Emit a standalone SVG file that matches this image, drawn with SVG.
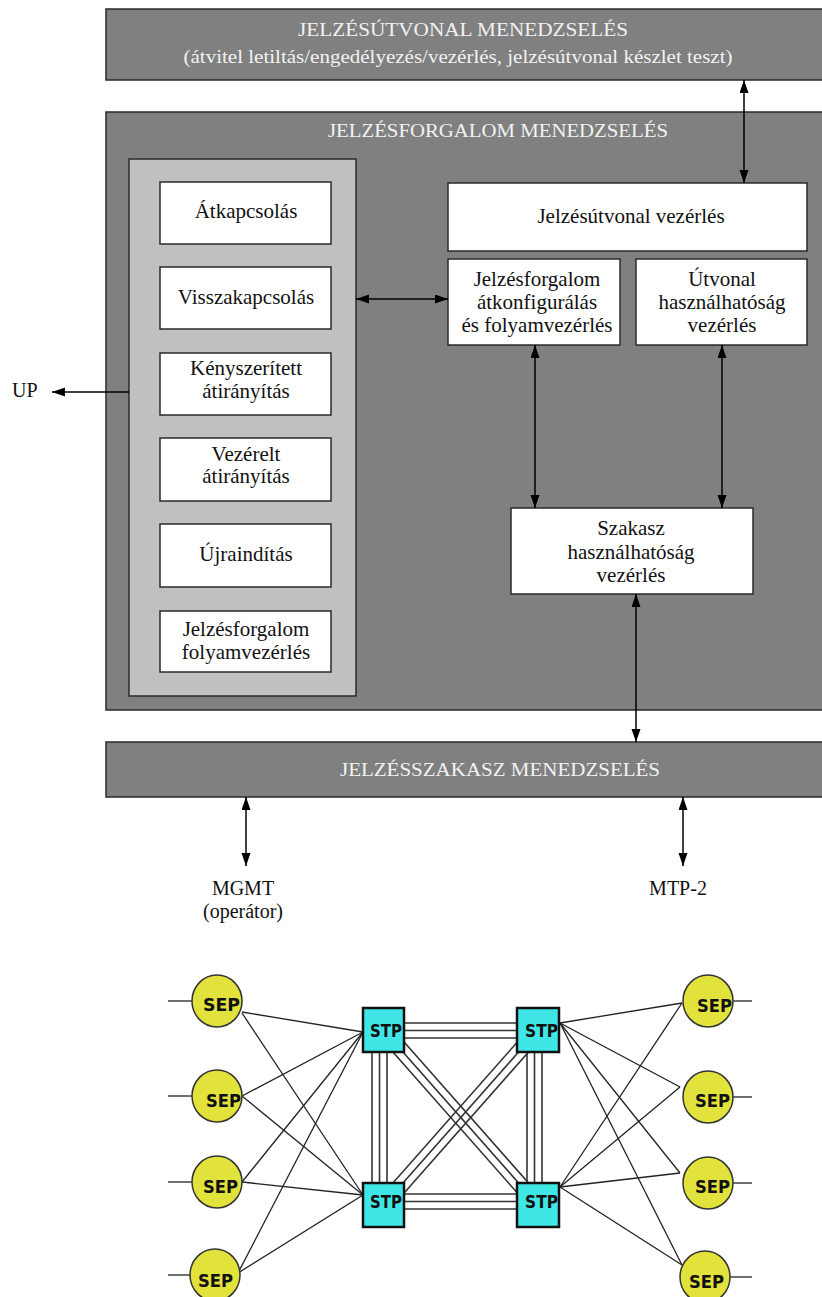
<svg xmlns="http://www.w3.org/2000/svg" width="822" height="1297" viewBox="0 0 822 1297">
<style>
.dark{fill:#808080;stroke:#2a2a2a;stroke-width:1.5}
.panel{fill:#c0c0c0;stroke:#2a2a2a;stroke-width:1.5}
.box{fill:#ffffff;stroke:#2a2a2a;stroke-width:1.5}
.title{font-family:"Liberation Serif","Times New Roman",serif;font-size:19px;fill:#f2f2f2;text-anchor:middle}
.t{font-family:"Liberation Serif","Times New Roman",serif;font-size:21px;fill:#111;text-anchor:middle}
.lbl{font-family:"Liberation Serif","Times New Roman",serif;font-size:20px;fill:#111}
.arr{stroke:#000;stroke-width:1.5;fill:none}
.link{stroke:#222;stroke-width:1.3;fill:none}
.trunk{stroke:#333;stroke-width:1.6;fill:none}
.sep{fill:#e2e23c;stroke:#333;stroke-width:1.5}
.stp{fill:#40e6e6;stroke:#111;stroke-width:2.5}
.nl{font-family:"DejaVu Sans","Liberation Sans",sans-serif;font-weight:bold;font-size:17px;fill:#111}
</style>
<defs>
<marker id="ah" markerUnits="userSpaceOnUse" markerWidth="14" markerHeight="10" refX="13" refY="4.5" orient="auto-start-reverse">
<path d="M0,0 L13,4.5 L0,9 Z" fill="#000"/>
</marker>
</defs>
<rect width="822" height="1297" fill="#ffffff"/>

<g id="jelzesutvonal-menedzseles">
<rect class="dark" x="106" y="9" width="730" height="71"/>
<text class="title" x="463" y="36" textLength="330" lengthAdjust="spacingAndGlyphs">JELZÉSÚTVONAL MENEDZSELÉS</text>
<text class="title" x="458" y="63" textLength="549" lengthAdjust="spacingAndGlyphs">(átvitel letiltás/engedélyezés/vezérlés, jelzésútvonal készlet teszt)</text>
</g>

<g id="jelzesforgalom-menedzseles">
<rect class="dark" x="106" y="112" width="730" height="598"/>
<text class="title" x="498" y="137" textLength="340" lengthAdjust="spacingAndGlyphs">JELZÉSFORGALOM MENEDZSELÉS</text>
</g>

<g id="panel">
<rect class="panel" x="129" y="159" width="227" height="537"/>
</g>

<g id="atkapcsolas">
<rect class="box" x="160" y="182" width="171" height="62"/>
<text class="t" x="246" y="218">Átkapcsolás</text>
</g>
<g id="visszakapcsolas">
<rect class="box" x="160" y="267" width="171" height="62"/>
<text class="t" x="246" y="304">Visszakapcsolás</text>
</g>
<g id="kenyszeritett">
<rect class="box" x="160" y="353" width="171" height="62"/>
<text class="t" x="246" y="375">Kényszerített</text>
<text class="t" x="246" y="398">átirányítás</text>
</g>
<g id="vezerelt">
<rect class="box" x="160" y="438" width="171" height="63"/>
<text class="t" x="246" y="461">Vezérelt</text>
<text class="t" x="246" y="483">átirányítás</text>
</g>
<g id="ujrainditas">
<rect class="box" x="160" y="524" width="171" height="63"/>
<text class="t" x="246" y="561">Újraindítás</text>
</g>
<g id="folyamvezerles">
<rect class="box" x="160" y="611" width="171" height="61"/>
<text class="t" x="246" y="636">Jelzésforgalom</text>
<text class="t" x="246" y="659">folyamvezérlés</text>
</g>

<g id="jelzesutvonal-vezerles">
<rect class="box" x="448" y="183" width="359" height="68"/>
<text class="t" x="631" y="223">Jelzésútvonal vezérlés</text>
</g>
<g id="atkonfiguralas">
<rect class="box" x="448" y="259" width="172" height="86"/>
<text class="t" x="537" y="286">Jelzésforgalom</text>
<text class="t" x="537" y="309">átkonfigurálás</text>
<text class="t" x="537" y="332">és folyamvezérlés</text>
</g>
<g id="utvonal">
<rect class="box" x="636" y="259" width="171" height="86"/>
<text class="t" x="722" y="286">Útvonal</text>
<text class="t" x="722" y="309">használhatóság</text>
<text class="t" x="722" y="332">vezérlés</text>
</g>
<g id="szakasz">
<rect class="box" x="511" y="508" width="242" height="86"/>
<text class="t" x="631" y="535">Szakasz</text>
<text class="t" x="631" y="559">használhatóság</text>
<text class="t" x="631" y="582">vezérlés</text>
</g>

<g id="jelzesszakasz-menedzseles">
<rect class="dark" x="106" y="742" width="730" height="55"/>
<text class="title" x="500" y="776" textLength="320" lengthAdjust="spacingAndGlyphs">JELZÉSSZAKASZ MENEDZSELÉS</text>
</g>

<g id="labels">
<text class="lbl" x="12" y="397">UP</text>
<text class="lbl" x="243" y="895" text-anchor="middle">MGMT</text>
<text class="lbl" x="243" y="918" text-anchor="middle">(operátor)</text>
<text class="lbl" x="678" y="895" text-anchor="middle">MTP-2</text>
</g>

<g id="connectors">
<line class="arr" x1="744" y1="80" x2="744" y2="183" marker-start="url(#ah)" marker-end="url(#ah)"/>
<line class="arr" x1="356" y1="299" x2="448" y2="299" marker-start="url(#ah)" marker-end="url(#ah)"/>
<line class="arr" x1="535" y1="345" x2="535" y2="508" marker-start="url(#ah)" marker-end="url(#ah)"/>
<line class="arr" x1="722" y1="345" x2="722" y2="508" marker-start="url(#ah)" marker-end="url(#ah)"/>
<line class="arr" x1="636" y1="594" x2="636" y2="742" marker-start="url(#ah)" marker-end="url(#ah)"/>
<line class="arr" x1="129" y1="392" x2="52" y2="392" marker-end="url(#ah)"/>
<line class="arr" x1="246" y1="797" x2="246" y2="866" marker-start="url(#ah)" marker-end="url(#ah)"/>
<line class="arr" x1="683" y1="797" x2="683" y2="866" marker-start="url(#ah)" marker-end="url(#ah)"/>
</g>

<g id="network-links">
<line class="trunk" x1="384" y1="1023" x2="538" y2="1023"/>
<line class="trunk" x1="384" y1="1030.5" x2="538" y2="1030.5"/>
<line class="trunk" x1="384" y1="1038" x2="538" y2="1038"/>
<line class="trunk" x1="384" y1="1194" x2="538" y2="1194"/>
<line class="trunk" x1="384" y1="1201.5" x2="538" y2="1201.5"/>
<line class="trunk" x1="384" y1="1209" x2="538" y2="1209"/>
<line class="trunk" x1="372" y1="1030" x2="372" y2="1205"/>
<line class="trunk" x1="379.5" y1="1030" x2="379.5" y2="1205"/>
<line class="trunk" x1="387" y1="1030" x2="387" y2="1205"/>
<line class="trunk" x1="527" y1="1030" x2="527" y2="1205"/>
<line class="trunk" x1="534.5" y1="1030" x2="534.5" y2="1205"/>
<line class="trunk" x1="542" y1="1030" x2="542" y2="1205"/>
<line class="trunk" x1="383.5" y1="1030" x2="538" y2="1205"/>
<line class="trunk" x1="389.1" y1="1025" x2="543.6" y2="1200"/>
<line class="trunk" x1="377.9" y1="1035" x2="532.4" y2="1210"/>
<line class="trunk" x1="538" y1="1030" x2="383.5" y2="1205"/>
<line class="trunk" x1="543.6" y1="1035" x2="389.1" y2="1210"/>
<line class="trunk" x1="532.4" y1="1025" x2="377.9" y2="1200"/>

<line class="link" x1="242" y1="1012" x2="363" y2="1032"/>
<line class="link" x1="242" y1="1013" x2="363" y2="1195"/>
<line class="link" x1="242" y1="1096" x2="363" y2="1032"/>
<line class="link" x1="242" y1="1096" x2="363" y2="1195"/>
<line class="link" x1="242" y1="1182" x2="363" y2="1032"/>
<line class="link" x1="242" y1="1182" x2="363" y2="1195"/>
<line class="link" x1="238" y1="1273" x2="363" y2="1032"/>
<line class="link" x1="238" y1="1273" x2="363" y2="1195"/>

<line class="link" x1="560" y1="1023" x2="682" y2="1003"/>
<line class="link" x1="560" y1="1023" x2="680" y2="1087"/>
<line class="link" x1="560" y1="1023" x2="680" y2="1173"/>
<line class="link" x1="560" y1="1023" x2="682" y2="1265"/>
<line class="link" x1="560" y1="1187" x2="682" y2="1003"/>
<line class="link" x1="560" y1="1187" x2="680" y2="1087"/>
<line class="link" x1="560" y1="1187" x2="680" y2="1173"/>
<line class="link" x1="560" y1="1187" x2="682" y2="1265"/>

<line class="link" x1="168" y1="1001" x2="193" y2="1001" stroke-width="2"/>
<line class="link" x1="168" y1="1096" x2="193" y2="1096" stroke-width="2"/>
<line class="link" x1="168" y1="1182" x2="193" y2="1182" stroke-width="2"/>
<line class="link" x1="168" y1="1275" x2="191" y2="1275" stroke-width="2"/>
<line class="link" x1="732" y1="1001" x2="752" y2="1001" stroke-width="2"/>
<line class="link" x1="732" y1="1097" x2="752" y2="1097" stroke-width="2"/>
<line class="link" x1="732" y1="1183" x2="752" y2="1183" stroke-width="2"/>
<line class="link" x1="729" y1="1277" x2="752" y2="1277" stroke-width="2"/>
</g>

<g id="stp-tl"><rect class="stp" x="363" y="1008" width="41" height="44"/><text class="nl" x="370" y="1037" textLength="32" lengthAdjust="spacingAndGlyphs">STP</text></g>
<g id="stp-tr"><rect class="stp" x="517" y="1008" width="42" height="44"/><text class="nl" x="525" y="1037" textLength="33" lengthAdjust="spacingAndGlyphs">STP</text></g>
<g id="stp-bl"><rect class="stp" x="363" y="1183" width="41" height="44"/><text class="nl" x="370" y="1208" textLength="32" lengthAdjust="spacingAndGlyphs">STP</text></g>
<g id="stp-br"><rect class="stp" x="517" y="1183" width="42" height="44"/><text class="nl" x="525" y="1208" textLength="33" lengthAdjust="spacingAndGlyphs">STP</text></g>

<g id="sep-l1"><ellipse class="sep" cx="217" cy="1001" rx="25" ry="26"/><text class="nl" x="203" y="1011" textLength="37" lengthAdjust="spacingAndGlyphs">SEP</text></g>
<g id="sep-l2"><ellipse class="sep" cx="217" cy="1096" rx="25" ry="26"/><text class="nl" x="206" y="1107" textLength="35" lengthAdjust="spacingAndGlyphs">SEP</text></g>
<g id="sep-l3"><ellipse class="sep" cx="217" cy="1182" rx="25" ry="26"/><text class="nl" x="203" y="1193" textLength="35" lengthAdjust="spacingAndGlyphs">SEP</text></g>
<g id="sep-l4"><ellipse class="sep" cx="215" cy="1275" rx="25" ry="26"/><text class="nl" x="198" y="1287" textLength="35" lengthAdjust="spacingAndGlyphs">SEP</text></g>
<g id="sep-r1"><ellipse class="sep" cx="708" cy="1001" rx="25" ry="26"/><text class="nl" x="697" y="1012" textLength="35" lengthAdjust="spacingAndGlyphs">SEP</text></g>
<g id="sep-r2"><ellipse class="sep" cx="708" cy="1097" rx="25" ry="26"/><text class="nl" x="695" y="1107" textLength="35" lengthAdjust="spacingAndGlyphs">SEP</text></g>
<g id="sep-r3"><ellipse class="sep" cx="708" cy="1183" rx="25" ry="26"/><text class="nl" x="695" y="1193" textLength="35" lengthAdjust="spacingAndGlyphs">SEP</text></g>
<g id="sep-r4"><ellipse class="sep" cx="705" cy="1277" rx="25" ry="26"/><text class="nl" x="689" y="1288" textLength="35" lengthAdjust="spacingAndGlyphs">SEP</text></g>
</svg>
